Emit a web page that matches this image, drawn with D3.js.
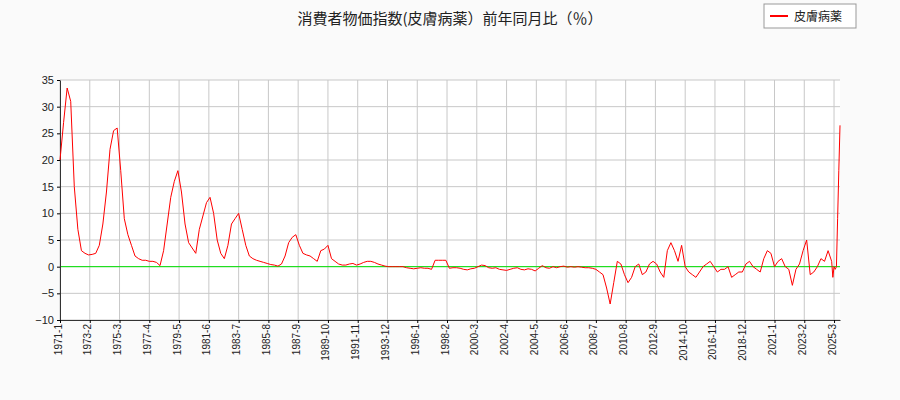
<!DOCTYPE html>
<html><head><meta charset="utf-8">
<script src="https://cdn.jsdelivr.net/npm/d3@7"></script>
<style>body{margin:0;background:#fafafa}svg{font-family:"Noto Sans CJK JP","DejaVu Sans",sans-serif}</style>
</head><body><svg id="c" width="900" height="400"></svg>
<script>
// quarterly values (months 1,4,7,10) from 1971 to 2024
var quarterly = [
 [20,27,33.5,31],[15,7,3,2.5],[2.2,2.3,2.5,4],[8,14,22,25.5],[26,18,9,6],
 [4,2,1.5,1.2],[1.2,1,1,0.8],[0.2,3,8,13],[16,18,14,8],[4.5,3.5,2.5,7],
 [9.5,12,13,10],[5,2.5,1.5,4],[8,9,10,7],[4,2,1.5,1.2],[1,0.8,0.6,0.4],
 [0.3,0.1,0.5,2],[4.5,5.5,6,4],[2.5,2.2,2,1.5],[1,3,3.3,4],[1.5,1,0.5,0.3],
 [0.3,0.5,0.6,0.3],[0.5,0.8,1,1],[0.8,0.5,0.3,0.1],[0,0,0,0],[0,-0.2,-0.3,-0.4],
 [-0.3,-0.2,-0.3,-0.3],[-0.5,1.2,1.2,1.2],[1.2,-0.3,-0.2,-0.2],[-0.3,-0.5,-0.6,-0.4],[-0.3,0,0.3,0.2],
 [-0.2,-0.3,-0.2,-0.5],[-0.6,-0.7,-0.5,-0.3],[-0.2,-0.5,-0.6,-0.4],[-0.5,-0.8,-0.3,0.2],[-0.2,-0.3,0,-0.2],
 [0,0.1,-0.1,0],[-0.1,0,-0.1,-0.2],[-0.2,-0.3,-0.5,-1],[-1.5,-4,-7,-3],[1,0.5,-1.5,-3],
 [-2,0,0.5,-1.5],[-1,0.5,1,0.5],[-1,-2,3,4.5],[3,1,4,0],[-1,-1.5,-2,-1],
 [0,0.5,1,0],[-1,-0.5,-0.5,0],[-2,-1.5,-1,-1],[0.5,1,0,-0.5],[-1,1.5,3,2.5],
 [0,1,1.5,0],[-0.5,-3.5,-0.5,0.5],[3,5,-1.5,-1],[0,1.5,1,3]
];
// 2025 monthly values, Jan to Aug
var monthly2025 = [1,-2,0,-0.5,0,9,18,26.5];
var startYear = 1971, lastMonthIndex = 655;
var yTicks = [-10,-5,0,5,10,15,20,25,30,35];

var data = [];
quarterly.forEach(function(q, yi){ q.forEach(function(v, qi){ data.push({m: yi*12 + qi*3, v: v}); }); });
monthly2025.forEach(function(v, i){ data.push({m: (2025-startYear)*12 + i, v: v}); });

var svg = d3.select('#c');
var L = 60, R = 840, T = 80, B = 320;
var x = d3.scaleLinear().domain([0, lastMonthIndex]).range([L, R]);
var y = d3.scaleLinear().domain([-10, 35]).range([B, T]);
var xTicks = d3.range(0, lastMonthIndex, 25);
function label(m){ return (startYear + Math.floor(m/12)) + '-' + (m%12 + 1); }

svg.append('rect').attr('x', L).attr('y', T).attr('width', R-L).attr('height', B-T).attr('fill', '#fff');
svg.append('g').selectAll('line').data(yTicks).enter().append('line')
  .attr('x1', L).attr('x2', R).attr('y1', y).attr('y2', y).attr('stroke', '#c8c8c8');
svg.append('g').selectAll('line').data(xTicks).enter().append('line')
  .attr('x1', x).attr('x2', x).attr('y1', T).attr('y2', B).attr('stroke', '#c8c8c8');
svg.append('line').attr('x1', L).attr('x2', R).attr('y1', y(0)).attr('y2', y(0)).attr('stroke', '#00e000');

var ya = svg.append('g').attr('transform', 'translate(' + L + ',0)')
  .call(d3.axisLeft(y).tickValues(yTicks).tickSize(3).tickSizeOuter(0));
ya.selectAll('text').attr('font-size', 11).attr('fill', '#222');
var xa = svg.append('g').attr('transform', 'translate(0,' + B + ')')
  .call(d3.axisBottom(x).tickValues(xTicks).tickFormat(label).tickSize(3).tickSizeOuter(0));
xa.selectAll('text').attr('font-size', 10).attr('fill', '#222')
  .attr('transform', 'rotate(-90)').attr('text-anchor', 'end').attr('dx', '-0.4em').attr('dy', '-0.5em');
svg.selectAll('.domain').attr('stroke', '#333');

svg.append('path').datum(data).attr('fill', 'none').attr('stroke', '#ff0000').attr('stroke-width', 1)
  .attr('d', d3.line().x(function(d){ return x(d.m); }).y(function(d){ return y(d.v); }));

svg.append('text').attr('x', 450).attr('y', 24).attr('text-anchor', 'middle').attr('font-size', 15).attr('fill', '#222')
  .text('消費者物価指数(皮膚病薬）前年同月比（％）');
svg.append('rect').attr('x', 764).attr('y', 4).attr('width', 92).attr('height', 24).attr('fill', '#fff').attr('stroke', '#999');
svg.append('line').attr('x1', 770).attr('x2', 788).attr('y1', 16).attr('y2', 16).attr('stroke', '#f00').attr('stroke-width', 2);
svg.append('text').attr('x', 794).attr('y', 21).attr('font-size', 12).attr('fill', '#222').text('皮膚病薬');
</script></body></html>
